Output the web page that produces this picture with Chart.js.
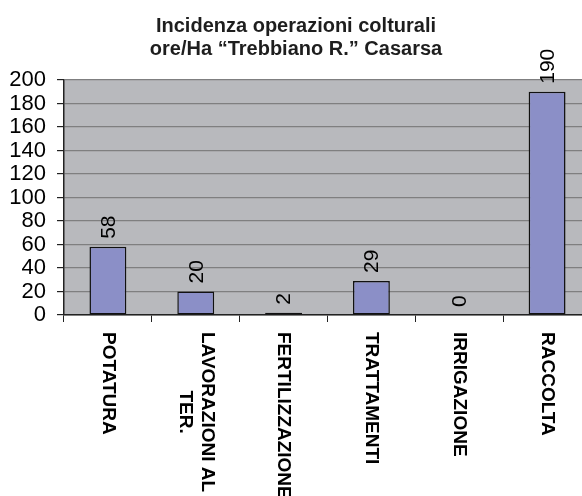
<!DOCTYPE html>
<html>
<head>
<meta charset="utf-8">
<script src="https://cdn.jsdelivr.net/npm/chart.js@4"></script>
<style>
  html, body { margin: 0; padding: 0; background: #fff; }
  #wrap { width: 582px; height: 496px; overflow: hidden; position: relative; }
  canvas { display: block; }
</style>
</head>
<body>
<div id="wrap"><canvas id="opChart" width="600" height="496"></canvas></div>
<script>
const categories = [['POTATURA'], ['LAVORAZIONI AL', 'TER.'], ['FERTILIZZAZIONE'], ['TRATTAMENTI'], ['IRRIGAZIONE'], ['RACCOLTA']];
const oreHa = [58, 20, 2, 29, 0, 190];
const titleLines = ['Incidenza operazioni colturali', 'ore/Ha \u201cTrebbiano R.\u201d Casarsa'];
const yTicks = [0, 20, 40, 60, 80, 100, 120, 140, 160, 180, 200];

const FONT = '"Liberation Sans", Arial, sans-serif';

// grey plot background + title + rotated labels
const chartDecor = {
    id: 'chartDecor',
    beforeDraw(chart) {
        const a = chart.chartArea;
        const ctx = chart.ctx;
        ctx.save();
        ctx.fillStyle = '#b8b9bd';
        ctx.fillRect(a.left, a.top, a.right - a.left, a.bottom - a.top);
        ctx.restore();
    },
    afterDraw(chart) {
        const ctx = chart.ctx;
        const xScale = chart.scales.x;
        const meta = chart.getDatasetMeta(0);

        // title
        ctx.save();
        ctx.fillStyle = '#1e1e1e';
        ctx.font = 'bold 20px ' + FONT;
        ctx.textAlign = 'center';
        ctx.textBaseline = 'alphabetic';
        ctx.fillText(titleLines[0], 296, 32);
        ctx.fillText(titleLines[1], 296, 55);
        ctx.restore();

        // value labels, rotated
        ctx.save();
        ctx.fillStyle = '#000';
        ctx.font = '21px ' + FONT;
        ctx.textAlign = 'left';
        ctx.textBaseline = 'middle';
        meta.data.forEach(function (bar, i) {
            ctx.save();
            ctx.translate(bar.x, bar.y - 8);
            ctx.rotate(-Math.PI / 2);
            ctx.fillText(String(oreHa[i]), 0, 1);
            ctx.restore();
        });
        ctx.restore();

        // category labels, reading top to bottom
        ctx.save();
        ctx.fillStyle = '#000';
        ctx.font = 'bold 19px ' + FONT;
        ctx.textAlign = 'center';
        ctx.textBaseline = 'middle';
        categories.forEach(function (lines, i) {
            const x = xScale.getPixelForValue(i);
            const maxW = Math.max.apply(null, lines.map(l => ctx.measureText(l).width));
            const lh = 22;
            ctx.save();
            ctx.translate(x, xScale.top + 17);
            ctx.rotate(Math.PI / 2);
            lines.forEach(function (l, j) {
                const off = (j - (lines.length - 1) / 2) * lh;
                ctx.fillText(l, maxW / 2, off);
            });
            ctx.restore();
        });
        ctx.restore();
    }
};

new Chart(document.getElementById('opChart').getContext('2d'), {
    type: 'bar',
    data: {
        labels: categories.map(c => c.join(' ')),
        datasets: [{
            data: oreHa,
            backgroundColor: '#8b8fc7',
            borderColor: '#111',
            borderWidth: 1.5,
            borderSkipped: false,
            categoryPercentage: 1,
            barPercentage: 0.42
        }]
    },
    options: {
        responsive: false,
        animation: false,
        layout: { padding: { top: 80, right: 9, left: 0, bottom: 0 } },
        plugins: {
            legend: { display: false },
            title: { display: false },
            tooltip: { enabled: false }
        },
        scales: {
            x: {
                afterFit: function (scale) { scale.height = 181; },
                ticks: { display: false },
                grid: {
                    drawOnChartArea: false,
                    drawTicks: true,
                    tickLength: 7,
                    tickColor: '#222'
                },
                border: { color: '#222', width: 1.5 }
            },
            y: {
                min: 0,
                max: 200,
                afterFit: function (scale) { scale.width = 64; },
                afterBuildTicks: function (scale) {
                    scale.ticks = yTicks.map(v => ({ value: v }));
                },
                ticks: {
                    color: '#000',
                    font: { family: FONT, size: 22 },
                    padding: 11,
                    autoSkip: false
                },
                grid: {
                    color: '#7f7f80',
                    lineWidth: 1.2,
                    tickLength: 7,
                    tickColor: '#222'
                },
                border: { color: '#222', width: 1.5 }
            }
        }
    },
    plugins: [chartDecor]
});
</script>
</body>
</html>
